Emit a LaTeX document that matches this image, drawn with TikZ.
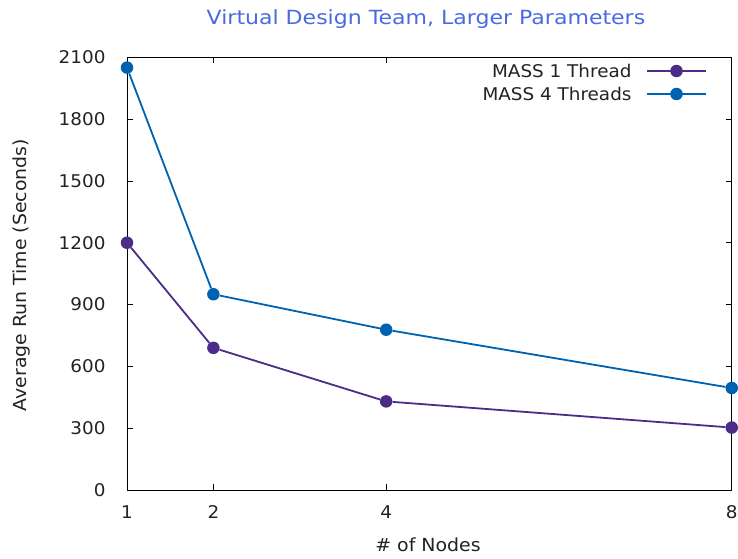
\documentclass[tikz,border=0pt]{standalone}
\usepackage{fontspec}
\setmainfont{DejaVu Sans}
\newfontfamily\plotfont[FakeStretch=1.05]{DejaVu Sans}
\newfontfamily\titlefont[FakeStretch=1.13]{DejaVu Sans}
\usepackage{tikz}
\usetikzlibrary{positioning,calc}
\definecolor{onethread}{HTML}{4B2C86}
\definecolor{fourthread}{HTML}{0062AE}
\definecolor{titleblue}{HTML}{4A6BE0}
\definecolor{labelgray}{HTML}{222222}
\tikzset{
  dot/.style={circle,inner sep=0pt,minimum size=12.5pt},
  series/.style={line width=1.8pt},
  ticklabel/.style={font=\plotfont\fontsize{17.5}{17.5}\selectfont,text=labelgray},
  axislabel/.style={font=\plotfont\fontsize{18}{18}\selectfont,text=labelgray}
}

\begin{document}
\begin{tikzpicture}[x=1pt,y=1pt]
    \useasboundingbox (0,0) rectangle (738,558);
    \node[font=\titlefont\fontsize{19.5}{19.5}\selectfont,text=titleblue] (title) at (426,539) {Virtual Design Team, Larger Parameters};
    \node[axislabel,rotate=90] (ylabel) at (22,283) {Average Run Time (Seconds)};
    \node[axislabel] (xlabel) at (428,13) {\# of Nodes};
    \begin{scope}[shift={(40.61pt,68pt)},x=86.39pt,y=0.20605pt]
    % frame and ticks
    \draw[line width=1pt] (1,0) rectangle (8,2100);
    \foreach \v in {0,300,...,2100} {
        \draw[line width=0.8pt] (1,\v) -- ++(6pt,0);
        \draw[line width=0.8pt] (8,\v) -- ++(-6pt,0);
        \node[ticklabel,anchor=east] at ([xshift=-18pt]1,\v) {\v};
    }
    \foreach \n in {1,2,4,8} {
        \draw[line width=0.8pt] (\n,0) -- ++(0,6pt);
        \draw[line width=0.8pt] (\n,2100) -- ++(0,-6pt);
        \node[ticklabel] at ([yshift=-22pt]\n,0) {\n};
    }
    % MASS 1 Thread
    \node[dot,fill=onethread] (a1) at (1,1200) {};
    \node[dot,fill=onethread] (a2) at (2,690) {};
    \node[dot,fill=onethread] (a4) at (4,430) {};
    \node[dot,fill=onethread] (a8) at (8,303) {};
    \draw[series,onethread] (a1) -- (a2) -- (a4) -- (a8);
    % MASS 4 Threads
    \node[dot,fill=fourthread] (b1) at (1,2050) {};
    \node[dot,fill=fourthread] (b2) at (2,950) {};
    \node[dot,fill=fourthread] (b4) at (4,778) {};
    \node[dot,fill=fourthread] (b8) at (8,495) {};
    \draw[series,fourthread] (b1) -- (b2) -- (b4) -- (b8);
    \end{scope}
    % legend
    \node[ticklabel,anchor=east] (key1) at (635,487) {MASS 1 Thread};
    \coordinate[right=12pt of key1.east] (k1s);
    \coordinate[right=59pt of k1s] (k1e);
    \draw[series,onethread] (k1s) -- (k1e);
    \node[dot,fill=onethread] (k1dot) at ($(k1s)!0.5!(k1e)$) {};
    \node[ticklabel,anchor=east] (key4) at (635,464) {MASS 4 Threads};
    \coordinate[right=12pt of key4.east] (k4s);
    \coordinate[right=59pt of k4s] (k4e);
    \draw[series,fourthread] (k4s) -- (k4e);
    \node[dot,fill=fourthread] (k4dot) at ($(k4s)!0.5!(k4e)$) {};
\end{tikzpicture}
\end{document}
